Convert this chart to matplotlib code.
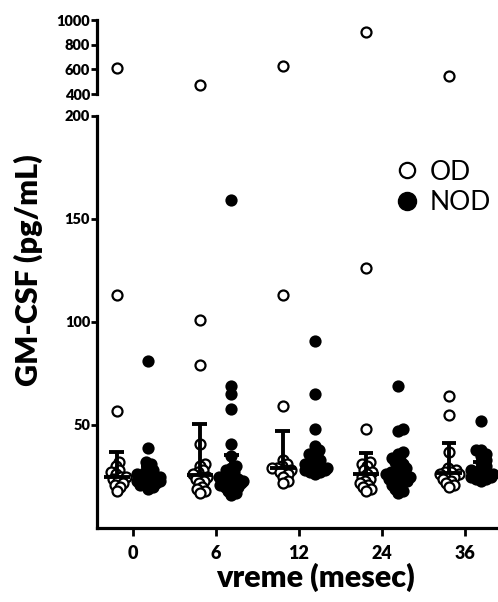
import numpy as np
import matplotlib
matplotlib.use("Agg")
import matplotlib.pyplot as plt
from matplotlib.lines import Line2D

plt.rcParams['font.family'] = ['Lato', 'DejaVu Sans']

# === Data ===
months = ['0', '6', '12', '24', '36']

od_0 = [611, 113, 57, 32, 30, 28, 27, 26, 25, 25, 24, 23, 22, 21, 20, 18]
od_6 = [473, 101, 79, 41, 31, 30, 28, 27, 26, 25, 25, 24, 23, 22, 20, 19, 18, 17]
od_12 = [627, 113, 59, 33, 31, 30, 29, 29, 28, 28, 27, 26, 25, 23, 22]
od_24 = [903, 126, 48, 32, 31, 30, 28, 27, 26, 25, 24, 23, 22, 21, 20, 19, 18]
od_36 = [546, 64, 55, 37, 29, 28, 27, 27, 26, 26, 25, 25, 24, 23, 22, 21, 20]

nod_0 = [81, 39, 32, 31, 29, 28, 27, 26, 26, 25, 25, 24, 24, 23, 23, 22, 22, 21, 21, 20, 19]
nod_6 = [159, 69, 65, 58, 41, 35, 30, 29, 28, 27, 26, 25, 25, 24, 24, 23, 23, 22, 22,
         21, 21, 20, 20, 19, 18, 17, 16]
nod_12 = [91, 65, 48, 40, 38, 37, 36, 35, 34, 33, 32, 31, 30, 30, 29, 29, 28, 28, 27, 27, 26]
nod_24 = [69, 48, 47, 37, 36, 34, 33, 32, 31, 30, 29, 28, 27, 27, 26, 26, 25, 25, 24, 24,
          23, 23, 22, 21, 20, 19, 18, 17]
nod_36 = [52, 38, 38, 36, 35, 33, 32, 30, 29, 28, 27, 27, 26, 26, 25, 25, 24, 24, 23]

od_center = [25, 25.5, 29, 26, 26.5]
od_bar_top = [37, 50.5, 47, 36.5, 41.5]
nod_center = [24, 22, 30, 27, 25]
nod_bar_top = [30, 35.5, 37, 33, 32]

od_groups = [od_0, od_6, od_12, od_24, od_36]
nod_groups = [nod_0, nod_6, nod_12, nod_24, nod_36]

# === Layout (pixels -> figure fractions) ===
W, H = 498, 602
fig = plt.figure(figsize=(W / 100, H / 100), dpi=100)
left = 97 / W
ax = fig.add_axes([left, (H - 528) / H, 1 - left, (528 - 116) / H])
ax_top = fig.add_axes([left, (H - 94) / H, 1 - left, (94 - 20) / H], sharex=ax)

xlim = (-0.43, 4.4)
px_per_x = (498 - 97) / (xlim[1] - xlim[0])
px_per_y = (528 - 116) / 200.0


def swarm(vals, center, d=5.0, max_off=12.0):
    vals = np.asarray(vals, float)
    xs = np.full(len(vals), center)
    placed = []
    for i in np.argsort(vals):
        y = vals[i] * px_per_y
        off = 0.0
        for step in range(200):
            k = (step + 1) // 2 * 0.5
            off = k if step % 2 else -k
            if abs(off) > max_off:
                off = np.clip(off, -max_off, max_off)
                break
            if all((off - px) ** 2 + (y - py) ** 2 >= d * d for px, py in placed):
                break
        placed.append((off, y))
        xs[i] = center + off / px_per_x
    return xs


shift = 0.19
ms, mew, lw = 7.2, 1.6, 2.8
for i in range(len(months)):
    for vals, sign, filled, cen, top in [
        (od_groups[i], -1, False, od_center[i], od_bar_top[i]),
        (nod_groups[i], 1, True, nod_center[i], nod_bar_top[i]),
    ]:
        vals = np.asarray(vals, float)
        c = i + sign * shift
        low = vals[vals < 200]
        high = vals[vals >= 400]
        xs = swarm(low, c)
        fc = 'black' if filled else 'white'
        ax.plot(xs, low, 'o', ms=ms, mfc=fc, mec='black', mew=mew, zorder=3)
        ax_top.plot(np.full(len(high), c), high, 'o', ms=ms, mfc=fc, mec='black',
                    mew=mew, zorder=3)
        ax.hlines(cen, c - 0.16, c + 0.16, color='black', lw=lw, zorder=4)
        ax.vlines(c, cen, top, color='black', lw=lw, zorder=4)
        ax.hlines(top, c - 0.09, c + 0.09, color='black', lw=lw, zorder=4)

# === Axes styling ===
ax.set_xlim(*xlim)
ax.set_ylim(0, 200)
ax.set_yticks([50, 100, 150, 200])
ax.set_xticks(range(len(months)))
ax.set_xticklabels(months)
for a in (ax, ax_top):
    a.spines['top'].set_visible(False)
    a.spines['right'].set_visible(False)
    a.spines['left'].set_linewidth(2.3)
    a.tick_params(axis='y', length=4, width=2, labelsize=10.5, pad=1)
    for t in a.get_yticklabels():
        t.set_fontweight('heavy')
ax.spines['bottom'].set_linewidth(2.3)
ax.tick_params(axis='x', length=6, width=2, labelsize=13, pad=6)
for t in ax.get_xticklabels():
    t.set_fontweight('heavy')

ax_top.set_ylim(400, 1000)
ax_top.set_yticks([400, 600, 800, 1000])
ax_top.spines['bottom'].set_visible(False)
ax_top.tick_params(axis='x', bottom=False, labelbottom=False)
for t in ax_top.get_yticklabels():
    t.set_fontweight('heavy')
ax_top.patch.set_alpha(0)

ax.set_xlabel('vreme (mesec)', fontsize=22, fontweight='heavy', labelpad=2)
ax.xaxis.set_label_coords(0.545, -0.085)
fig.text(0.058, (H - 270) / H, 'GM-CSF (pg/mL)', rotation=90, fontsize=22,
         fontweight='heavy', ha='center', va='center')

handles = [
    Line2D([], [], ls='none', marker='o', ms=11, mfc='white', mec='black', mew=1.6),
    Line2D([], [], ls='none', marker='o', ms=13, mfc='black', mec='black'),
]
ax.legend(handles, ['OD', 'NOD'], loc='upper left', bbox_to_anchor=(0.715, 0.92),
          frameon=False, fontsize=19, handletextpad=0.35, labelspacing=0.2,
          handlelength=1.0, borderaxespad=0)

fig.savefig('out.png', dpi=100)
